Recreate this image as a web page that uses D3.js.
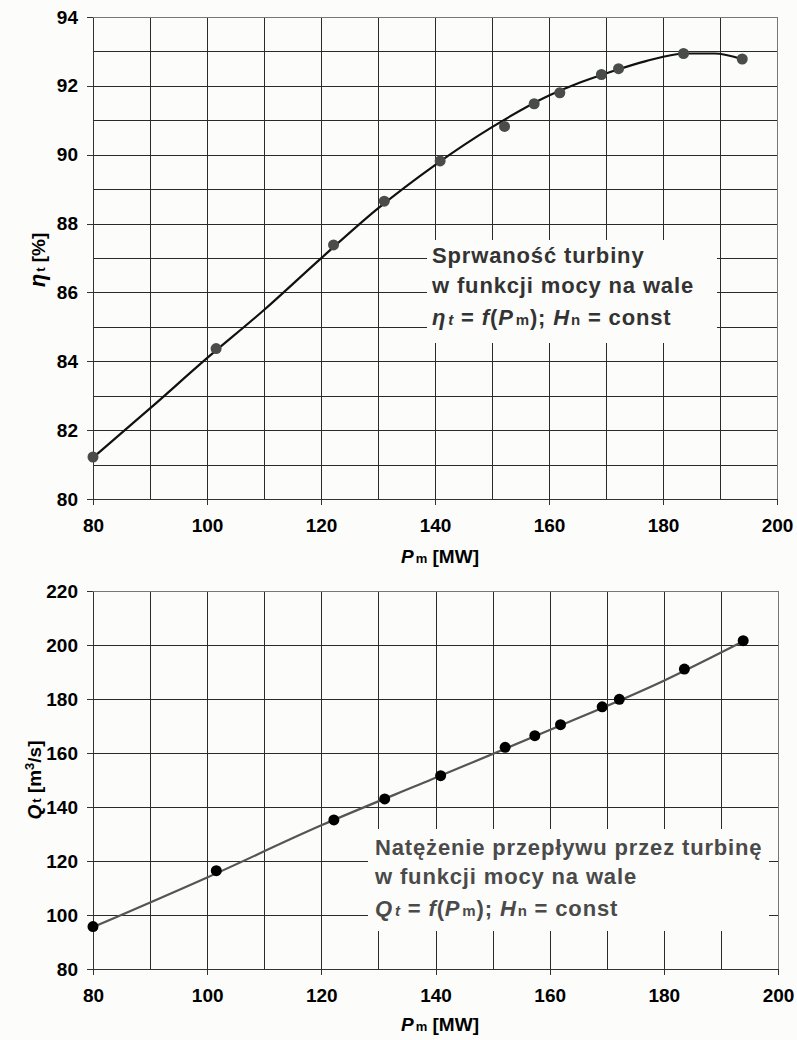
<!DOCTYPE html>
<html>
  <head>
    <meta charset="utf-8">
    <title>Turbina - charakterystyki</title>
    <style>
      body { margin: 0; background: #fcfcfa; }
      svg { font-family: "Liberation Sans", Arial, sans-serif; font-weight: bold; }
      .grid line { stroke: #2a2a2a; stroke-width: 1; shape-rendering: crispEdges; }
      .grid path { display: none; }
      .axis path, .axis line { stroke: #333; shape-rendering: crispEdges; }
      .axis text { font-size: 19px; font-weight: bold; fill: #000; }
    </style>
  </head>
  <body>
    <div class="chart"></div>
    <script src="https://d3js.org/d3.v7.min.js"></script>
    <script>
      // Measured points (shaft power, efficiency, flow)
      var power = [80, 101.6, 122.2, 131.1, 140.9, 152.2, 157.4, 161.9, 169.2, 172.2, 183.6, 193.9];
      var efficiency = [81.22, 84.37, 87.38, 88.65, 89.82, 90.82, 91.48, 91.8, 92.33, 92.5, 92.94, 92.78];
      var flow = [95.7, 116.4, 135.2, 143.0, 151.6, 162.1, 166.4, 170.5, 177.1, 179.9, 191.1, 201.6];

      // Trend lines
      var effTrendP = [80, 90, 100, 110, 120, 130, 140, 150, 160, 165, 170, 177, 184, 189, 194];
      var effTrend = [81.2, 82.63, 84.09, 85.49, 86.99, 88.44, 89.7, 90.8, 91.72, 92.07, 92.36, 92.72, 92.94, 92.94, 92.77];
      var flowTrendP = [80, 100, 120, 140, 160, 180, 194];
      var flowTrend = [95.5, 113.9, 133.2, 150.8, 168.5, 186.8, 201.5];

      // Tick values
      var xTicks = [80, 100, 120, 140, 160, 180, 200];
      var effTicks = [80, 82, 84, 86, 88, 90, 92, 94];
      var flowTicks = [80, 100, 120, 140, 160, 180, 200, 220];

      var svg = d3.select(".chart").append("svg")
        .attr("width", 797)
        .attr("height", 1040);

      function drawChart(opt) {
        var x = d3.scaleLinear().domain([80, 200]).range([opt.left, opt.right]);
        var y = d3.scaleLinear().domain(opt.yDomain).range([opt.bottom, opt.top]);
        var g = svg.append("g");
        var w = opt.right - opt.left, h = opt.bottom - opt.top;

        // grid
        g.append("g").attr("class", "grid")
          .attr("transform", "translate(0," + opt.bottom + ")")
          .call(d3.axisBottom(x).tickValues(d3.range(80, 201, 10)).tickSize(-h).tickFormat(""));
        g.append("g").attr("class", "grid")
          .attr("transform", "translate(" + opt.left + ",0)")
          .call(d3.axisLeft(y).tickValues(opt.gridY).tickSize(-w).tickFormat(""));

        // frame
        g.append("rect")
          .attr("x", opt.left).attr("y", opt.top)
          .attr("width", w).attr("height", h)
          .attr("fill", "none").attr("stroke", "#777")
          .attr("shape-rendering", "crispEdges");

        // label box hides the grid
        g.append("rect")
          .attr("x", opt.box[0]).attr("y", opt.box[1])
          .attr("width", opt.box[2]).attr("height", opt.box[3])
          .attr("fill", "#fcfcfa");

        // axes
        g.append("g").attr("class", "axis")
          .attr("transform", "translate(0," + opt.bottom + ")")
          .call(d3.axisBottom(x).tickValues(xTicks).tickSize(6).tickPadding(14).tickSizeOuter(0));
        g.append("g").attr("class", "axis")
          .attr("transform", "translate(" + opt.left + ",0)")
          .call(d3.axisLeft(y).tickValues(opt.yTicks).tickSize(6).tickPadding(9).tickSizeOuter(0));

        // trend line
        var pts = opt.trendX.map(function(d, i) { return [d, opt.trendY[i]]; });
        g.append("path")
          .datum(pts)
          .attr("fill", "none")
          .attr("stroke", opt.lineColor)
          .attr("stroke-width", 2.2)
          .attr("d", d3.line()
            .x(function(d) { return x(d[0]); })
            .y(function(d) { return y(d[1]); })
            .curve(d3.curveMonotoneX));

        // points
        g.selectAll(".pt")
          .data(power)
          .enter().append("circle")
          .attr("cx", function(d) { return x(d); })
          .attr("cy", function(d, i) { return y(opt.values[i]); })
          .attr("r", 5.5)
          .attr("fill", opt.dotColor);

        // x title
        var xt = g.append("text")
          .attr("x", 440).attr("y", opt.xTitleY)
          .attr("text-anchor", "middle")
          .attr("font-size", 19);
        xt.append("tspan").attr("font-style", "italic").text("P");
        xt.append("tspan").attr("font-size", 13).attr("dx", 2).text("m");
        xt.append("tspan").text(" [MW]");

        // y title
        var yt = g.append("text")
          .attr("transform", "translate(" + opt.yTitleX + "," + opt.yTitleY + ") rotate(-90)")
          .attr("text-anchor", "middle")
          .attr("font-size", 19);
        opt.yTitle(yt);

        // annotation
        var ann = g.append("text")
          .attr("font-size", 22)
          .attr("letter-spacing", 0.85)
          .attr("fill", opt.textColor);
        opt.lines.forEach(function(line, i) {
          ann.append("tspan").attr("x", opt.textX).attr("y", opt.textY[i]).text(line);
        });
        var eq = ann.append("tspan").attr("x", opt.textX).attr("y", opt.textY[2]);
        eq.append("tspan").attr("font-style", "italic").text(opt.symbol);
        eq.append("tspan").attr("font-style", "italic").attr("font-size", 15).attr("dx", 2).text("t");
        eq.append("tspan").text(" = ");
        eq.append("tspan").attr("font-style", "italic").text("f");
        eq.append("tspan").text("(");
        eq.append("tspan").attr("font-style", "italic").text("P");
        eq.append("tspan").attr("font-size", 15).attr("dx", 2).text("m");
        eq.append("tspan").text("); ");
        eq.append("tspan").attr("font-style", "italic").text("H");
        eq.append("tspan").attr("font-size", 15).attr("dx", 1).text("n");
        eq.append("tspan").text(" = const");
      }

      drawChart({
        left: 93, right: 777, top: 17, bottom: 499,
        yDomain: [80, 94], yTicks: effTicks, gridY: d3.range(80, 95, 1),
        values: efficiency, trendX: effTrendP, trendY: effTrend,
        lineColor: "#111", dotColor: "#4a4c4a",
        box: [427, 240, 290, 103],
        textX: 432, textY: [263, 293, 325], textColor: "#333",
        lines: ["Sprwaność turbiny", "w funkcji mocy na wale"], symbol: "η",
        xTitleY: 563, yTitleX: 45, yTitleY: 260,
        yTitle: function(t) {
          t.append("tspan").attr("font-style", "italic").attr("font-size", 22).text("η");
          t.append("tspan").attr("font-size", 13).attr("dx", 2).text("t");
          t.append("tspan").text(" [%]");
        }
      });

      drawChart({
        left: 93, right: 778, top: 591, bottom: 969,
        yDomain: [80, 220], yTicks: flowTicks, gridY: d3.range(80, 221, 20),
        values: flow, trendX: flowTrendP, trendY: flowTrend,
        lineColor: "#555", dotColor: "#000",
        box: [368, 829, 401, 102],
        textX: 375, textY: [855, 884, 916], textColor: "#4a4a4a",
        lines: ["Natężenie przepływu przez turbinę", "w funkcji mocy na wale"], symbol: "Q",
        xTitleY: 1031, yTitleX: 41, yTitleY: 780,
        yTitle: function(t) {
          t.append("tspan").attr("font-style", "italic").text("Q");
          t.append("tspan").attr("font-size", 13).attr("dx", 2).text("t");
          t.append("tspan").text(" [m");
          t.append("tspan").attr("font-size", 13).attr("dy", -7).text("3");
          t.append("tspan").attr("dy", 7).text("/s]");
        }
      });
    </script>
  </body>
</html>
